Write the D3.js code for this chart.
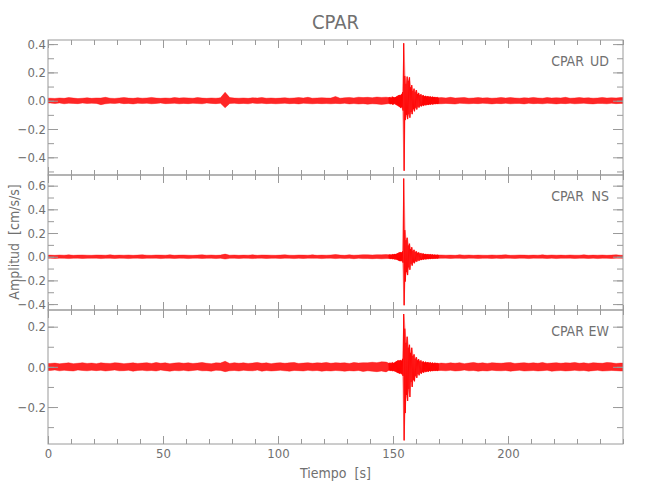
<!DOCTYPE html>
<html><head><meta charset="utf-8">
<script src="https://cdn.jsdelivr.net/npm/d3@7"></script>
<style>
html,body{margin:0;padding:0;background:#fff;}
text{font-family:"Liberation Sans Narrow","DejaVu Sans Condensed","Arial Narrow",sans-serif;}
</style></head>
<body><svg id="chart" width="650" height="500"></svg>
<script>
// ---------------- DATA (amplitudes in 10^-3 cm/s/s, per-bin max / min) -------------
const title = "CPAR";
const station = "CPAR";
const components = ["UD", "NS", "EW"];
const xLabel = "Tiempo  [s]";
const yLabel = "Amplitud  [cm/s/s]";
const xDomain = [0, 250];
const xMajorTicks = [0, 50, 100, 150, 200];
const yDomains = [[-0.525, 0.429], [-0.45, 0.69], [-0.384, 0.283]];
const yMajorTicks = [[-0.4, -0.2, 0.0, 0.2, 0.4], [-0.4, -0.2, 0.0, 0.2, 0.4, 0.6], [-0.2, 0.0, 0.2]];
const codaWindow = [154.3, 162.7]; // seconds where the strong shaking is drawn as an oscillation

// time segments: [start, step] ; bins of the segments below
const segA = [0, 2];      // 74 bins, 0..148 s
const segB = [148, 0.5];  // 44 bins, 148..170 s
const segC = [170, 2];    // 40 bins, 170..250 s

// UD
const udMaxA = [18,16,20,17,22,19,15,18,21,17, 20,19,24,18,16,20,22,19,17,21, 18,20,23,19,17,20,18,22,19,21, 20,18,22,19,17,20,18,21,60,22, 19,18,20,17,21,19,22,18,20,17, 19,21,18,20,22,19,24,18,20,21, 20,19,30,18,21,23,20,25,22,24, 21,26,23,25];
const udMinA = [-17,-20,-16,-22,-18,-19,-21,-17,-20,-18, -19,-28,-22,-18,-20,-17,-21,-19,-23,-18, -20,-18,-22,-19,-17,-21,-20,-18,-22,-19, -21,-18,-20,-22,-17,-19,-21,-18,-50,-20, -18,-21,-19,-22,-17,-20,-18,-21,-19,-22, -20,-18,-21,-19,-23,-18,-20,-22,-19,-21, -20,-22,-19,-21,-18,-23,-20,-24,-21,-25, -22,-24,-26,-23];
const udMaxB = [22,25,20,28,24,22,26,30,35,40, 38,45,60,406,175,120,170,140,165,95, 110,70,85,60,75,48,55,40,45,35, 38,30,34,28,32,26,30,25,28,24, 26,22,25,21];
const udMinB = [-20,-24,-22,-26,-25,-20,-28,-32,-38,-42, -50,-45,-70,-495,-137,-100,-130,-95,-120,-80, -95,-60,-75,-50,-62,-42,-48,-36,-40,-32, -36,-28,-32,-26,-30,-25,-27,-23,-26,-22, -24,-21,-23,-22];
const udMaxC = [22,20,24,19,21,23,18,20,22,19, 21,18,20,23,19,22,20,18,21,19, 23,20,18,22,19,21,20,24,18,20, 22,19,21,18,20,23,19,21,20,22];
const udMinC = [-22,-19,-21,-24,-18,-20,-22,-19,-21,-18, -20,-23,-19,-21,-18,-22,-20,-19,-23,-18, -21,-19,-22,-18,-20,-23,-19,-21,-18,-22, -20,-18,-21,-23,-19,-20,-22,-18,-21,-19];

// NS
const nsMaxA = [14,12,15,13,16,12,14,15,13,12, 15,14,13,16,12,14,13,15,12,14, 16,13,12,15,14,13,16,12,14,15, 13,12,14,16,13,15,12,14,22,13, 15,12,14,13,16,12,15,14,13,12, 14,16,13,12,15,14,13,16,12,14, 13,15,18,14,12,16,13,15,17,16, 15,17,16,18];
const nsMinA = [-13,-15,-12,-14,-16,-13,-12,-15,-14,-13, -12,-16,-14,-13,-15,-12,-14,-16,-13,-12, -15,-13,-14,-12,-16,-14,-13,-15,-12,-14, -16,-13,-12,-15,-14,-13,-16,-12,-20,-14, -13,-15,-12,-14,-16,-13,-12,-15,-14,-13, -15,-12,-14,-16,-13,-15,-12,-14,-13,-16, -14,-12,-16,-13,-15,-14,-17,-13,-16,-15, -17,-15,-18,-16];
const nsMaxB = [16,18,15,20,18,22,20,25,30,35, 37,35,45,660,225,140,160,95,110,65, 80,50,58,40,45,32,36,28,30,24, 26,20,23,18,21,17,20,16,18,15, 17,14,16,15];
const nsMinB = [-15,-18,-16,-20,-19,-22,-21,-26,-30,-36, -37,-35,-50,-410,-210,-130,-155,-90,-110,-60, -75,-48,-55,-38,-42,-30,-34,-26,-28,-22, -24,-19,-22,-18,-20,-16,-19,-15,-17,-15, -16,-14,-15,-14];
const nsMaxC = [15,13,14,12,16,13,15,12,14,13, 12,15,13,14,16,12,13,15,14,12, 14,13,16,12,15,13,14,12,15,13, 13,16,12,14,13,15,12,14,16,13];
const nsMinC = [-14,-12,-15,-13,-14,-16,-12,-13,-15,-14, -13,-15,-12,-16,-13,-14,-15,-12,-13,-16, -12,-14,-13,-15,-12,-16,-13,-14,-12,-15, -14,-13,-15,-12,-16,-13,-14,-15,-12,-14];

// EW
const ewMaxA = [17,19,15,18,20,16,18,21,17,19, 16,20,18,17,21,19,16,18,20,17, 19,21,17,22,18,20,16,19,21,18, 20,17,19,22,18,16,20,19,28,17, 21,18,20,17,19,22,18,20,16,19, 21,18,20,22,17,19,21,18,20,19, 22,18,21,19,20,17,22,19,21,20, 23,21,25,24];
const ewMinA = [-18,-16,-20,-17,-19,-21,-16,-18,-20,-17, -19,-17,-21,-18,-16,-20,-19,-17,-22,-18, -17,-20,-18,-21,-16,-19,-22,-18,-20,-17, -21,-18,-16,-20,-19,-22,-17,-18,-24,-20, -18,-21,-17,-19,-20,-16,-22,-18,-21,-19, -17,-20,-22,-18,-19,-21,-17,-20,-18,-22, -19,-21,-18,-20,-22,-19,-21,-18,-23,-20, -22,-24,-21,-25];
const ewMaxB = [18,20,17,22,19,21,25,28,32,30, 33,30,40,263,190,120,150,95,110,70, 95,55,62,40,48,33,38,28,32,24, 27,21,25,20,23,19,22,18,21,17, 20,18,19,17];
const ewMinB = [-17,-19,-18,-21,-20,-22,-24,-28,-30,-33, -32,-35,-45,-366,-230,-140,-170,-110,-150,-75, -100,-65,-72,-45,-55,-36,-42,-30,-34,-26, -29,-22,-26,-21,-24,-20,-22,-19,-21,-18, -20,-18,-20,-18];
const ewMaxC = [19,17,20,18,21,16,19,22,18,20, 17,21,19,18,20,22,17,19,21,18, 20,18,22,17,19,21,18,20,19,22, 18,20,17,21,19,18,22,20,17,19];
const ewMinC = [-18,-20,-17,-21,-19,-16,-20,-18,-22,-19, -21,-17,-19,-20,-18,-22,-19,-17,-21,-20, -18,-21,-19,-17,-22,-20,-18,-21,-19,-17, -20,-18,-22,-19,-17,-21,-20,-18,-19,-21];

const seriesMax = [[udMaxA, udMaxB, udMaxC], [nsMaxA, nsMaxB, nsMaxC], [ewMaxA, ewMaxB, ewMaxC]];
const seriesMin = [[udMinA, udMinB, udMinC], [nsMinA, nsMinB, nsMinC], [ewMinA, ewMinB, ewMinC]];

// ---------------- LAYOUT ----------------
const left = 48, right = 623;
const panelTops = [40, 175, 310];
const panelH = [135, 135, 134];
const axisColor = "#9a9a9a";
const textColor = "#707070";
const fontStack = '"Liberation Sans Narrow","DejaVu Sans Condensed","Arial Narrow",sans-serif';

const svg = d3.select("#chart");
const x = d3.scaleLinear().domain(xDomain).range([left, right]);

function buildBins(p) {
  const segs = [segA, segB, segC];
  const out = [];
  segs.forEach((s, k) => {
    const mx = seriesMax[p][k], mn = seriesMin[p][k];
    mx.forEach((v, i) => {
      const t0 = s[0] + i * s[1];
      out.push({t0: t0, step: s[1], hi: v / 1000, lo: mn[i] / 1000});
    });
  });
  return out;
}

svg.append("text").attr("x", (left + right) / 2).attr("y", 29)
  .attr("text-anchor", "middle").attr("font-size", 20).attr("fill", textColor).text(title);

components.forEach((comp, p) => {
  const top = panelTops[p], bot = top + panelH[p];
  const y = d3.scaleLinear().domain(yDomains[p]).range([bot, top]);
  const g = svg.append("g");

  const clipId = "clip" + p;
  svg.append("clipPath").attr("id", clipId).append("rect")
    .attr("x", left).attr("y", top).attr("width", right - left).attr("height", bot - top);

  const bins = buildBins(p);
  const pts = bins.map(b => ({t: b.t0 + b.step / 2, hi: b.hi, lo: b.lo}));
  pts.unshift({t: xDomain[0], hi: pts[0].hi, lo: pts[0].lo});
  pts.push({t: xDomain[1], hi: pts[pts.length - 1].hi, lo: pts[pts.length - 1].lo});
  const area = d3.area().x(d => x(d.t)).y0(d => y(d.lo)).y1(d => y(d.hi));
  // whole envelope, light
  g.append("path").datum(pts).attr("clip-path", `url(#${clipId})`)
    .attr("d", area).attr("fill", "#ff0000").attr("fill-opacity", 0.5)
    .attr("stroke", "#ff3030").attr("stroke-width", 0.4);
  // background noise denser (outside the coda window)
  const before = pts.filter(d => d.t <= codaWindow[0]);
  const after = pts.filter(d => d.t >= codaWindow[1]);
  [before, after].forEach(sub => {
    g.append("path").datum(sub).attr("clip-path", `url(#${clipId})`)
      .attr("d", area).attr("fill", "#ff0000").attr("fill-opacity", 0.7);
  });
  // oscillation through the strong motion: alternate max and min within each bin
  const zig = [];
  bins.filter(b => b.step < 1).forEach(b => {
    zig.push({t: b.t0 + b.step * 0.25, v: b.hi});
    zig.push({t: b.t0 + b.step * 0.75, v: b.lo});
  });
  g.append("path").datum(zig).attr("clip-path", `url(#${clipId})`)
    .attr("d", d3.line().x(d => x(d.t)).y(d => y(d.v)))
    .attr("fill", "none").attr("stroke", "#ff0000").attr("stroke-width", 0.8);

  g.append("rect").attr("x", left).attr("y", top).attr("width", right - left).attr("height", bot - top)
    .attr("fill", "none").attr("stroke", axisColor).attr("stroke-width", 1);

  const yMinor = d3.range(Math.ceil(yDomains[p][0] * 10 - 1e-6), Math.floor(yDomains[p][1] * 10 + 1e-6) + 1).map(v => v / 10);
  const xMinor = d3.range(0, 251, 10);
  const fmt = d3.format(".1f");

  function styleAxis(sel) {
    sel.select(".domain").remove();
    sel.selectAll("line").attr("stroke", axisColor);
    sel.selectAll("text").attr("fill", textColor).attr("font-size", 13).attr("font-family", fontStack);
  }
  g.append("g").attr("transform", `translate(${left},0)`)
    .call(d3.axisLeft(y).tickValues(yMinor).tickSize(-6).tickFormat("")).call(styleAxis);
  g.append("g").attr("transform", `translate(${left},0)`)
    .call(d3.axisLeft(y).tickValues(yMajorTicks[p]).tickSize(-10).tickPadding(2).tickFormat(fmt)).call(styleAxis);
  g.append("g").attr("transform", `translate(${right},0)`)
    .call(d3.axisRight(y).tickValues(yMinor).tickSize(-6).tickFormat("")).call(styleAxis);
  g.append("g").attr("transform", `translate(${right},0)`)
    .call(d3.axisRight(y).tickValues(yMajorTicks[p]).tickSize(-10).tickFormat("")).call(styleAxis);
  g.append("g").attr("transform", `translate(0,${top})`)
    .call(d3.axisTop(x).tickValues(xMinor).tickSize(-5).tickFormat("")).call(styleAxis);
  g.append("g").attr("transform", `translate(0,${top})`)
    .call(d3.axisTop(x).tickValues(xMajorTicks).tickSize(-8).tickFormat("")).call(styleAxis);
  g.append("g").attr("transform", `translate(0,${bot})`)
    .call(d3.axisBottom(x).tickValues(xMinor).tickSize(-5).tickFormat("")).call(styleAxis);
  g.append("g").attr("transform", `translate(0,${bot})`)
    .call(d3.axisBottom(x).tickValues(xMajorTicks).tickSize(-8).tickPadding(5)
      .tickFormat(p === components.length - 1 ? d3.format("d") : "")).call(styleAxis);

  g.append("text").attr("x", 609).attr("y", top + 26).attr("text-anchor", "end")
    .attr("font-size", 14).attr("fill", textColor).text(comp);
  g.append("text").attr("x", 584).attr("y", top + 26).attr("text-anchor", "end")
    .attr("font-size", 14).attr("fill", textColor).text(station);
});

svg.append("text").attr("x", (left + right) / 2).attr("y", 478)
  .attr("text-anchor", "middle").attr("font-size", 14).attr("fill", textColor)
  .style("white-space", "pre").text(xLabel);
svg.append("text").attr("transform", "translate(19,242) rotate(-90)")
  .attr("text-anchor", "middle").attr("font-size", 14).attr("fill", textColor)
  .style("white-space", "pre").text(yLabel);
</script></body></html>
